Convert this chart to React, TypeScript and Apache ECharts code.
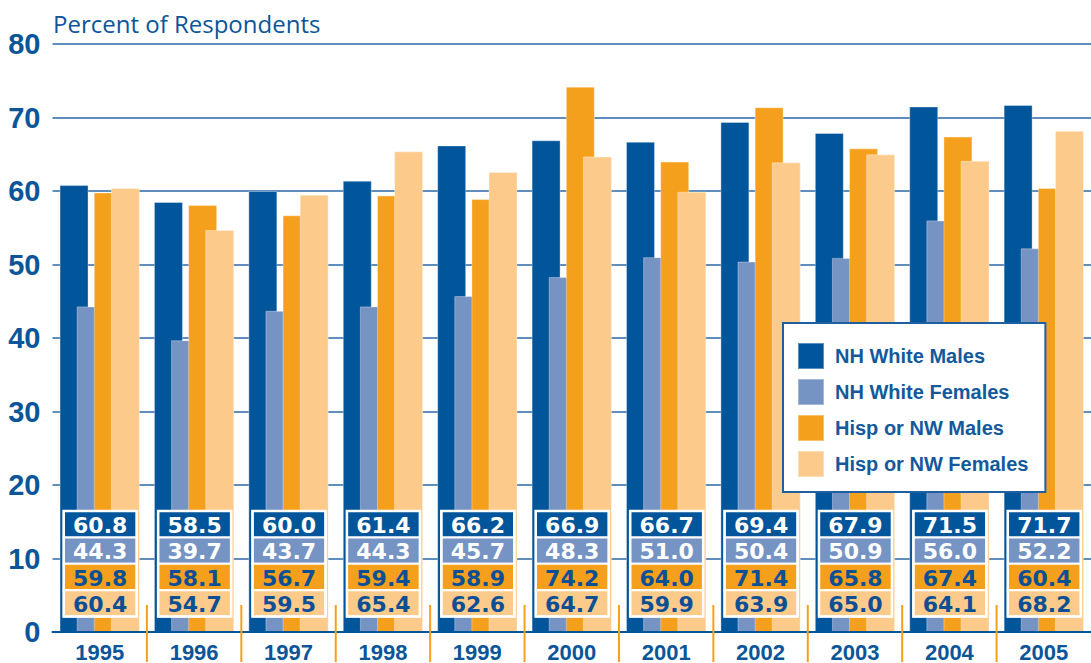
import React, { useEffect, useRef } from "react";
import * as echarts from "echarts";

const years = ["1995", "1996", "1997", "1998", "1999", "2000", "2001", "2002", "2003", "2004", "2005"];
const nhWhiteMales = [60.8, 58.5, 60.0, 61.4, 66.2, 66.9, 66.7, 69.4, 67.9, 71.5, 71.7];
const nhWhiteFemales = [44.3, 39.7, 43.7, 44.3, 45.7, 48.3, 51.0, 50.4, 50.9, 56.0, 52.2];
const hispNwMales = [59.8, 58.1, 56.7, 59.4, 58.9, 74.2, 64.0, 71.4, 65.8, 67.4, 60.4];
const hispNwFemales = [60.4, 54.7, 59.5, 65.4, 62.6, 64.7, 59.9, 63.9, 65.0, 64.1, 68.2];
const seriesNames = ["NH White Males", "NH White Females", "Hisp or NW Males", "Hisp or NW Females"];
const yTicks = [0, 10, 20, 30, 40, 50, 60, 70, 80];

const COLORS = ["#00559b", "#7593c3", "#f5a01c", "#fccb8b"];
const TEXT_COLORS = ["#ffffff", "#ffffff", "#0d4f94", "#0d4f94"];
const BLUE = "#0b5598";

export default function App() {
  const ref = useRef<HTMLDivElement>(null);
  useEffect(() => {
    if (!ref.current) return;
    const chart = echarts.init(ref.current, null, { renderer: "svg" });
    const allSeries = [nhWhiteMales, nhWhiteFemales, hispNwMales, hispNwFemales];
    const barSeries = allSeries.map((d, k) => ({
      type: "bar",
      name: seriesNames[k],
      data: d,
      barWidth: 29,
      barGap: "-41%",
      itemStyle: { color: COLORS[k], borderColor: "rgba(255,255,255,0.35)", borderWidth: 1 },
      z: 2,
    }));
    const boxData = years.map((_, i) => [i, ...allSeries.map((s) => s[i])]);
    chart.setOption({
      animation: false,
      grid: { left: 52.5, right: -6.5, top: 44, bottom: 27, containLabel: false },
      graphic: [
        {
          type: "text",
          left: 53,
          top: 11,
          style: {
            text: "Percent of Respondents",
            fill: BLUE,
            font: '24px "Open Sans"',
          },
        },
      ],
      legend: {
        data: seriesNames,
        orient: "vertical",
        left: 783,
        top: 323,
        itemWidth: 26,
        itemHeight: 26,
        itemGap: 8,
        icon: "rect",
        backgroundColor: "#ffffff",
        borderColor: "#1f5f9f",
        borderWidth: 2,
        borderRadius: 0,
        padding: [19, 17, 14, 14],
        textStyle: {
          color: "#13599c",
          fontFamily: '"Liberation Sans"',
          fontWeight: "bold",
          fontSize: 20,
          padding: [0, 0, 0, 6],
        },
        z: 10,
      },
      xAxis: {
        type: "category",
        data: years,
        boundaryGap: true,
        axisLine: { show: true, lineStyle: { color: "#00559b", width: 2 } },
        axisTick: { show: false },
        axisLabel: {
          color: BLUE,
          fontFamily: '"Liberation Sans"',
          fontWeight: "bold",
          fontSize: 22,
          margin: 9,
        },
        z: 3,
      },
      yAxis: {
        type: "value",
        min: yTicks[0],
        max: yTicks[yTicks.length - 1],
        interval: 10,
        axisLine: { show: false },
        axisTick: { show: false },
        axisLabel: {
          color: BLUE,
          fontFamily: '"Liberation Sans"',
          fontWeight: "bold",
          fontSize: 29,
          margin: 12,
        },
        splitLine: { show: true, lineStyle: { color: "#2a67a6", width: 1.5 } },
      },
      series: [
        ...barSeries,
        {
          type: "custom",
          name: "boxes",
          data: boxData,
          encode: { x: 0, y: 1 },
          z: 5,
          clip: false,
          renderItem: (params: any, api: any) => {
            const i = api.value(0);
            const pt = api.coord([i, 0]);
            const cx = pt[0];
            const y0 = pt[1];
            const band = api.size([1, 0])[0];
            const boxW = 73;
            const rowH = 26.4;
            const top = y0 - 121;
            const left = cx - boxW / 2 + 0.5;
            const children: any[] = [];
            for (let k = 0; k < 4; k++) {
              children.push({
                type: "rect",
                shape: { x: left, y: top + k * rowH, width: boxW, height: rowH },
                style: { fill: COLORS[k], stroke: "#ffffff", lineWidth: 2 },
              });
              children.push({
                type: "text",
                x: cx + 0.5,
                y: top + k * rowH + rowH / 2 + 1,
                style: {
                  text: Number(api.value(k + 1)).toFixed(1),
                  align: "center",
                  verticalAlign: "middle",
                  fill: TEXT_COLORS[k],
                  fontFamily: '"DejaVu Sans"',
                  fontWeight: "bold",
                  fontSize: 22,
                  lineHeight: 24,
                },
              });
            }
            children.push({
              type: "rect",
              shape: { x: left, y: top, width: boxW, height: rowH * 4 },
              style: { fill: "none", stroke: "#ffffff", lineWidth: 2.5 },
            });
            if (i < years.length - 1) {
              const sx = cx + band / 2;
              children.push({
                type: "line",
                shape: { x1: sx, y1: y0 - 27, x2: sx, y2: y0 + 30 },
                style: { stroke: "#f5a01c", lineWidth: 2 },
              });
            }
            return { type: "group", children };
          },
        },
      ],
    });
    return () => chart.dispose();
  }, []);
  return (
    <div style={{ position: "absolute", left: 0, top: 0, width: 1091, height: 663, overflow: "hidden" }}>
      <div ref={ref} style={{ width: 1091, height: 663 }} />
    </div>
  );
}
